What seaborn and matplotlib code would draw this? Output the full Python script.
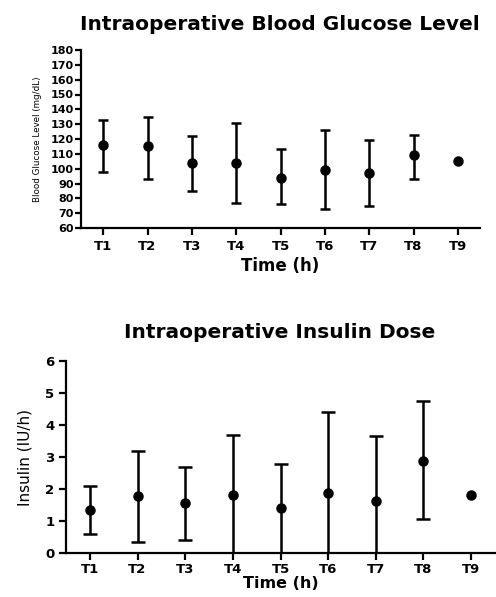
import matplotlib
matplotlib.use("Agg")
import matplotlib.pyplot as plt
import seaborn as sns
import pandas as pd
import numpy as np

sns.set_theme(style="ticks")
plt.rcParams['font.family'] = ['DejaVu Sans']
plt.rcParams.update({"text.color": "black", "axes.labelcolor": "black",
                     "xtick.color": "black", "ytick.color": "black"})

times = ["T1", "T2", "T3", "T4", "T5", "T6", "T7", "T8", "T9"]

glucose_mean = [116, 115, 104, 104, 94, 99, 97, 109, 105]
glucose_low = [98, 93, 85, 77, 76, 73, 75, 93, 105]
glucose_high = [133, 135, 122, 131, 113, 126, 119, 123, 105]

insulin_mean = [1.35, 1.77, 1.55, 1.82, 1.42, 1.88, 1.64, 2.89, 1.80]
insulin_low = [0.60, 0.35, 0.42, 0.0, 0.0, 0.0, 0.0, 1.06, 1.80]
insulin_high = [2.09, 3.18, 2.68, 3.68, 2.78, 4.42, 3.67, 4.75, 1.80]

glucose_df = pd.DataFrame({"Time": times, "mean": glucose_mean,
                           "low": glucose_low, "high": glucose_high})
insulin_df = pd.DataFrame({"Time": times, "mean": insulin_mean,
                           "low": insulin_low, "high": insulin_high})

fig = plt.figure(figsize=(4.96, 5.97), dpi=100)

ax1 = fig.add_axes([81/496, 1-228/597, 399/496, 178/597])
ax2 = fig.add_axes([66/496, 1-553/597, 429/496, 192/597])


def draw(ax, df, capsize, xlabel_size, xlabel_pad):
    x = np.arange(len(df))
    yerr = np.vstack([df["mean"] - df["low"], df["high"] - df["mean"]])
    has = (df["high"] - df["low"]).values > 0
    ax.errorbar(x[has], df["mean"][has], yerr=yerr[:, has], fmt="none",
                ecolor="black", elinewidth=1.8, capsize=capsize, capthick=1.8,
                zorder=2)
    sns.pointplot(data=df, x="Time", y="mean", ax=ax, color="black",
                  linestyle="none", markers="o", errorbar=None,
                  markersize=5.5, zorder=3)
    ax.set_xlim(-0.5, len(df) - 0.5)
    for s in ["top", "right"]:
        ax.spines[s].set_visible(False)
    for s in ["left", "bottom"]:
        ax.spines[s].set_linewidth(1.6)
        ax.spines[s].set_color("black")
    ax.tick_params(axis="both", direction="out", length=5, width=1.6,
                   color="black")
    for lab in ax.get_xticklabels():
        lab.set_fontweight("bold")
        lab.set_fontsize(9.5)
    ax.set_xlabel("Time (h)", fontsize=xlabel_size, fontweight="bold",
                  labelpad=xlabel_pad)


draw(ax1, glucose_df, 3.5, 12, 3)
ax1.set_ylim(60, 180)
ax1.set_yticks(np.arange(60, 181, 10))
ax1.set_yticklabels([str(v) for v in range(60, 181, 10)], fontsize=8,
                    fontweight="bold")
ax1.tick_params(axis="y", pad=1, length=4)
ax1.set_ylabel("Blood Glucose Level (mg/dL)", fontsize=6.3, labelpad=6)

draw(ax2, insulin_df, 5, 11.5, 0.5)
ax2.set_ylim(0, 6)
ax2.set_yticks(np.arange(0, 7, 1))
ax2.set_yticklabels([str(v) for v in range(0, 7)], fontsize=9.5,
                    fontweight="bold")
ax2.tick_params(axis="x", pad=2)
ax2.set_ylabel("Insulin (IU/h)", fontsize=11, labelpad=9)

fig.text(280/496, 1-25/597, "Intraoperative Blood Glucose Level",
         ha="center", va="center", fontsize=14.5, fontweight="bold")
fig.text(280/496, 1-333/597, "Intraoperative Insulin Dose",
         ha="center", va="center", fontsize=14.5, fontweight="bold")

fig.savefig("out.png", dpi=100)
